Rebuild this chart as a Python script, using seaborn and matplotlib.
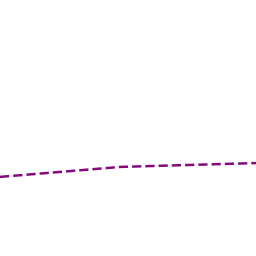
import matplotlib
matplotlib.use("Agg")
import matplotlib.pyplot as plt
import seaborn as sns
import pandas as pd

x_vals = [0, 4.7, 10]
y_vals = [30.9, 34.8, 36.3]

df = pd.DataFrame({"x": x_vals, "y": y_vals})

fig = plt.figure(figsize=(2.56, 2.56), dpi=100)
ax = fig.add_axes([0, 0, 1, 1])
sns.lineplot(data=df, x="x", y="y", ax=ax, color="#860a7c", linewidth=1.8, linestyle="--")
ax.set_xlim(0, 10)
ax.set_ylim(0, 100)
ax.axis("off")
fig.savefig("out.png", dpi=100, facecolor="white")
